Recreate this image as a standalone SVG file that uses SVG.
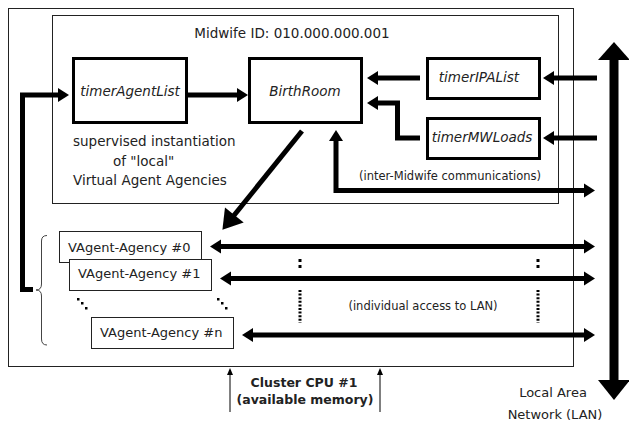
<svg xmlns="http://www.w3.org/2000/svg" width="629" height="422" viewBox="0 0 629 422">
<style>
.frame{fill:#fff;stroke:#222;stroke-width:1}
.tbox{fill:#fff;stroke:#000;stroke-width:3}
.vbox{fill:#fff;stroke:#222;stroke-width:1}
.t{font-family:"DejaVu Sans",Verdana,sans-serif;fill:#222}
.it{font-style:italic}
.c{text-anchor:middle}
.thick{fill:none;stroke:#000;stroke-width:5}
.thin{fill:none;stroke:#000;stroke-width:1}
</style>
<defs>
<marker id="ah" markerUnits="userSpaceOnUse" markerWidth="12" markerHeight="14" refX="1" refY="7" orient="auto-start-reverse" overflow="visible">
<path d="M0,0 L11,7 L0,14 Z" fill="#000"/>
</marker>
<marker id="big" markerUnits="userSpaceOnUse" markerWidth="20" markerHeight="24" refX="1" refY="12" orient="auto" overflow="visible">
<path d="M0,0 L19,12 L0,24 Z" fill="#000"/>
</marker>
<marker id="sm" markerUnits="userSpaceOnUse" markerWidth="7" markerHeight="6" refX="1" refY="3" orient="auto" overflow="visible">
<path d="M0,0 L7,3 L0,6 Z" fill="#000"/>
</marker>
</defs>

<g id="cluster">
<rect class="frame" x="8.5" y="8.5" width="565" height="358"/>
</g>
<g id="midwife">
<rect class="frame" x="52.5" y="15.5" width="506" height="188"/>
<text class="t c" x="292" y="38" font-size="13.5">Midwife ID: 010.000.000.001</text>
</g>

<g id="timerAgentList">
<rect class="tbox" x="73.5" y="58.5" width="113" height="64"/>
<text class="t it c" x="130" y="96" font-size="13.5">timerAgentList</text>
</g>
<g id="BirthRoom">
<rect class="tbox" x="249.5" y="58.5" width="112" height="64"/>
<text class="t it c" x="305" y="96" font-size="13.5">BirthRoom</text>
</g>
<g id="timerIPAList">
<rect class="tbox" x="427.5" y="58.5" width="112" height="40"/>
<text class="t it c" x="479" y="82" font-size="13.5">timerIPAList</text>
</g>
<g id="timerMWLoads">
<rect class="tbox" x="427.5" y="118.5" width="112" height="40"/>
<text class="t it c" x="482" y="142" font-size="13.5">timerMWLoads</text>
</g>
<g id="supervised-label">
<text class="t" x="73" y="146" font-size="13.5">supervised instantiation</text>
<text class="t" x="113" y="166" font-size="13.5">of "local"</text>
<text class="t" x="73" y="185" font-size="13.5">Virtual Agent Agencies</text>
</g>

<g id="agency0">
<rect class="vbox" x="59.5" y="231.5" width="142" height="31"/>
<text class="t" x="68" y="252" font-size="13">VAgent-Agency #0</text>
</g>
<g id="agency1">
<rect class="vbox" x="69.5" y="259.5" width="142" height="31"/>
<text class="t" x="78" y="278" font-size="13">VAgent-Agency #1</text>
</g>
<g id="agencyn">
<rect class="vbox" x="91.5" y="317.5" width="142" height="31"/>
<text class="t" x="100" y="337" font-size="13">VAgent-Agency #n</text>
</g>
<g id="ellipses" fill="#000">
<rect x="77" y="298" width="2.5" height="2.5"/>
<rect x="81" y="302" width="2.5" height="2.5"/>
<rect x="85" y="307" width="2.5" height="2.5"/>
<rect x="217" y="298" width="2.5" height="2.5"/>
<rect x="221" y="302" width="2.5" height="2.5"/>
<rect x="225" y="307" width="2.5" height="2.5"/>
<rect x="298.5" y="259" width="3" height="3"/>
<rect x="298.5" y="265" width="3" height="3"/>
<rect x="536.5" y="259" width="3" height="3"/>
<rect x="536.5" y="265" width="3" height="3"/>
<line x1="300" y1="290" x2="300" y2="323" stroke="#000" stroke-width="3" stroke-dasharray="2,1.6"/>
<line x1="538" y1="290" x2="538" y2="323" stroke="#000" stroke-width="3" stroke-dasharray="2,1.6"/>
</g>
<g id="brace">
<path d="M47,235.5 Q41.5,235.5 41.5,241 L41.5,284 Q41.5,290 36,290 Q41.5,290 41.5,296 L41.5,339 Q41.5,345 47,345" fill="none" stroke="#444" stroke-width="1"/>
</g>

<g id="labels">
<text class="t c" x="450" y="180" font-size="11.5">(inter-Midwife communications)</text>
<text class="t c" x="423" y="310" font-size="11.5">(individual access to LAN)</text>
<text class="t c" x="304" y="387" font-size="12.5" font-weight="bold">Cluster CPU #1</text>
<text class="t c" x="305" y="404" font-size="12.5" font-weight="bold">(available memory)</text>
<text class="t c" x="553" y="397" font-size="13">Local Area</text>
<text class="t c" x="555" y="419" font-size="13">Network (LAN)</text>
</g>

<g id="connectors">
<line class="thick" x1="188" y1="95" x2="238" y2="95" marker-end="url(#ah)"/>
<path class="thick" d="M33,289.5 H22.5 V95 H59" marker-end="url(#ah)"/>
<line class="thick" x1="420" y1="78" x2="377" y2="78" marker-end="url(#ah)"/>
<path class="thick" d="M420,138 H397.5 V103 H377" marker-end="url(#ah)"/>
<line class="thick" x1="597" y1="78" x2="553" y2="78" marker-end="url(#ah)"/>
<line class="thick" x1="597" y1="138" x2="553" y2="138" marker-end="url(#ah)"/>
<path class="thick" d="M336,140 V190.5 H585" stroke-width="4" marker-start="url(#ah)" marker-end="url(#ah)"/>
<line class="thick" x1="302" y1="131" x2="233.7" y2="215.8" stroke-width="6" marker-end="url(#big)"/>
<line class="thick" x1="220" y1="246.5" x2="585" y2="246.5" marker-start="url(#ah)" marker-end="url(#ah)"/>
<line class="thick" x1="230" y1="278.5" x2="585" y2="278.5" marker-start="url(#ah)" marker-end="url(#ah)"/>
<line class="thick" x1="252" y1="335" x2="585" y2="335" marker-start="url(#ah)" marker-end="url(#ah)"/>
<line class="thin" x1="230" y1="412" x2="230" y2="374" marker-end="url(#sm)"/>
<line class="thin" x1="380" y1="412" x2="380" y2="374" marker-end="url(#sm)"/>
<g id="lan">
<rect x="609.5" y="58" width="9" height="324" fill="#000"/>
<path d="M614,42 L630,60 L598,60 Z" fill="#000"/>
<path d="M614,400 L630,380 L598,380 Z" fill="#000"/>
</g>
</g>
</svg>
